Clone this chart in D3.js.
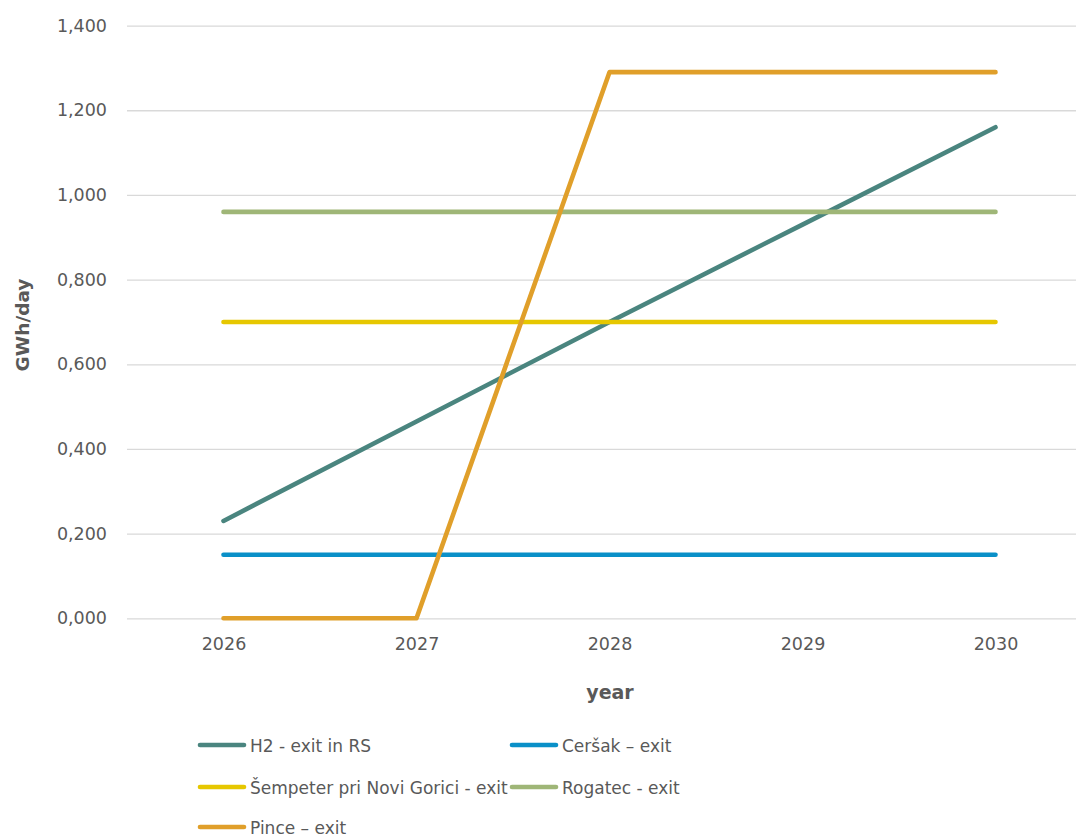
<!DOCTYPE html>
<html><head><meta charset="utf-8">
<script src="https://cdn.jsdelivr.net/npm/d3@7"></script>
<style>
body{margin:0;background:#fff;}
text{font-family:"DejaVu Sans",sans-serif;fill:#595959;}
</style></head><body>
<svg id="c" width="1076" height="835"></svg>
<script>
const years = ["2026","2027","2028","2029","2030"];
const seriesNames = ["H2 - exit in RS","Ceršak – exit","Šempeter pri Novi Gorici - exit","Rogatec - exit","Pince – exit"];
const h2 = [0.23, 0.465, 0.70, 0.93, 1.16];
const cersak = [0.15, 0.15, 0.15, 0.15, 0.15];
const sempeter = [0.70, 0.70, 0.70, 0.70, 0.70];
const rogatec = [0.96, 0.96, 0.96, 0.96, 0.96];
const pince = [0.0, 0.0, 1.29, 1.29, 1.29];
const yTicks = [0, 0.2, 0.4, 0.6, 0.8, 1.0, 1.2, 1.4];
const colors = ["#4a857f","#0a90c8","#e6c700","#9fb677","#e09f2a"];

(function(){
const seriesValues = [h2, cersak, sempeter, rogatec, pince];
const svg = d3.select("#c");
const pl = 127, pr = 1092, pt = 25.6, pb = 618.3;
const x = d3.scalePoint().domain(years).range([pl, pr]).padding(0.5);
const y = d3.scaleLinear().domain([0, 1.4]).range([pb, pt]);
const fmt = v => d3.format(".3f")(v).replace(".", ",");

const yAxis = d3.axisLeft(y).tickValues(yTicks).tickFormat(fmt).tickSize(-(pr-pl)).tickPadding(20);
const gy = svg.append("g").attr("transform", `translate(${pl},0)`).call(yAxis);
gy.select(".domain").remove();
gy.selectAll(".tick line").attr("stroke", "#d9d9d9").attr("stroke-width", 1.3);
gy.selectAll(".tick text").attr("font-size", 17.5).style("fill", "#595959");

const xAxis = d3.axisBottom(x).tickSize(0).tickPadding(19);
const gx = svg.append("g").attr("transform", `translate(0,${pb})`).call(xAxis);
gx.select(".domain").remove();
gx.selectAll(".tick text").attr("font-size", 17.5).style("fill", "#595959");

const line = d3.line().x((d,i) => x(years[i])).y(d => y(d));
seriesValues.forEach((vals, k) => {
  svg.append("path").datum(vals).attr("d", line)
    .attr("fill", "none").attr("stroke", colors[k]).attr("stroke-width", 4.6)
    .attr("stroke-linecap", "round").attr("stroke-linejoin", "round");
});

svg.append("text").attr("transform", "translate(29,325) rotate(-90)")
  .attr("text-anchor", "middle").attr("font-size", 18.5).attr("font-weight", "bold").text("GWh/day");
svg.append("text").attr("x", 610).attr("y", 699)
  .attr("text-anchor", "middle").attr("font-size", 19).attr("font-weight", "bold").text("year");

const legPos = [[198,745],[510,745],[198,787],[510,787],[198,827]];
seriesNames.forEach((name, k) => {
  const [lx, ly] = legPos[k];
  svg.append("line").attr("x1", lx+2).attr("x2", lx+46).attr("y1", ly).attr("y2", ly)
    .attr("stroke", colors[k]).attr("stroke-width", 4.6).attr("stroke-linecap", "round");
  svg.append("text").attr("x", lx+52).attr("y", ly+6.5).attr("font-size", 17).text(name);
});
})();
</script></body></html>
